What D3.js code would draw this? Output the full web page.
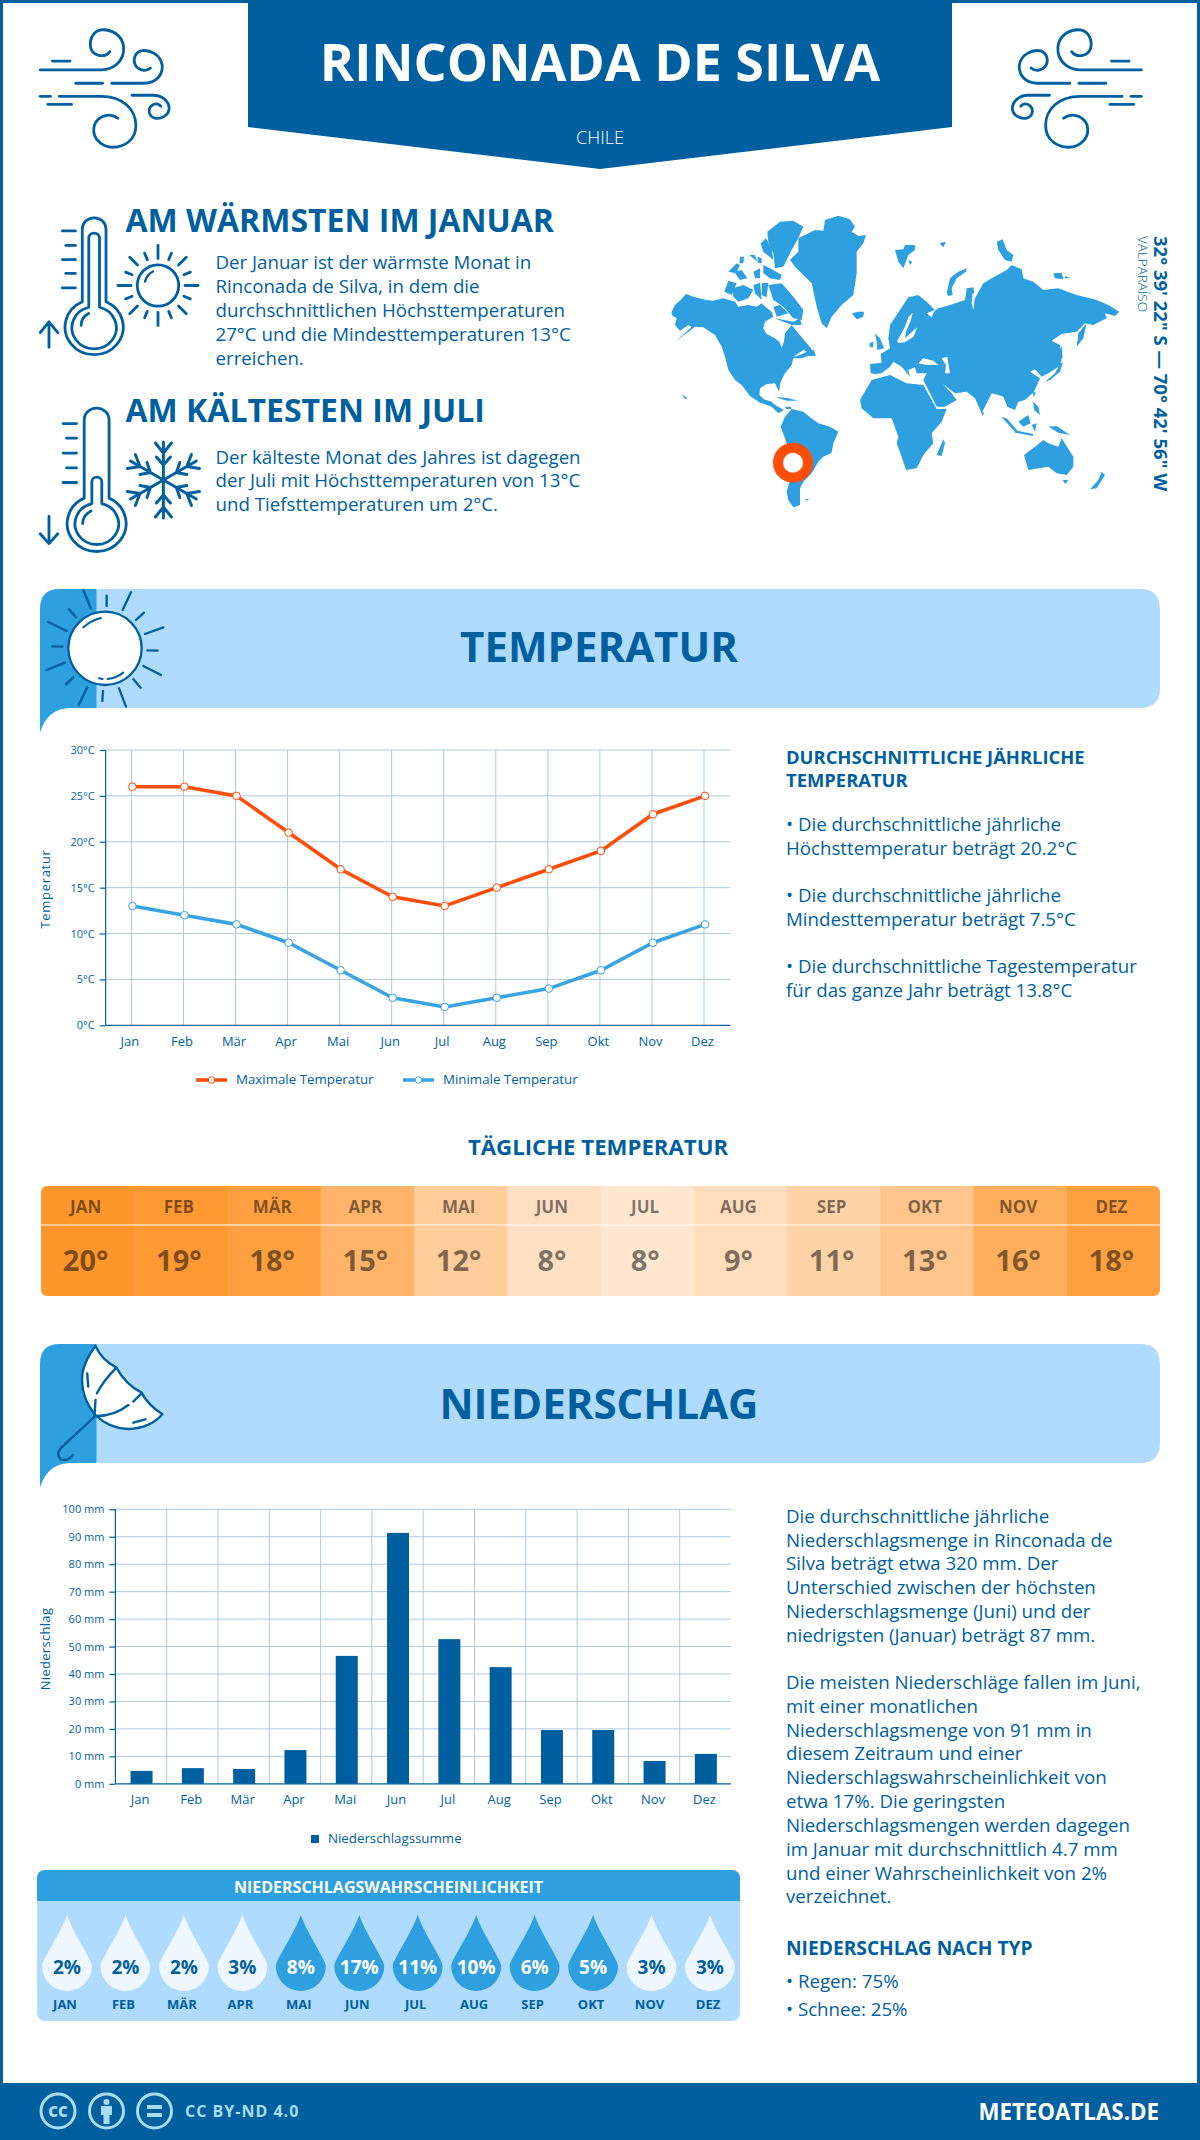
<!DOCTYPE html>
<html><head><meta charset="utf-8">
<style>
html,body{margin:0;padding:0;background:#fff}
svg{display:block}
text{font-family:"Open Sans",sans-serif}
</style>
<script src="https://cdn.jsdelivr.net/npm/d3@7"></script>
</head><body><svg id="c" width="1200" height="2140"></svg>
<script>
const months=["Jan","Feb","Mär","Apr","Mai","Jun","Jul","Aug","Sep","Okt","Nov","Dez"];
const monthsUpper=["JAN","FEB","MÄR","APR","MAI","JUN","JUL","AUG","SEP","OKT","NOV","DEZ"];
const tempMax=[26,26,25,21,17,14,13,15,17,19,23,25];
const tempMin=[13,12,11,9,6,3,2,3,4,6,9,11];
const dailyTemp=[20,19,18,15,12,8,8,9,11,13,16,18];
const precip=[4.7,5.7,5.4,12.3,46.6,91.4,52.7,42.5,19.6,19.6,8.3,10.9];
const precipProb=[2,2,2,3,8,17,11,10,6,5,3,3];
const tempTicks=[0,5,10,15,20,25,30];
const precipTicks=[0,10,20,30,40,50,60,70,80,90,100];
const warmLines=["Der Januar ist der wärmste Monat in","Rinconada de Silva, in dem die","durchschnittlichen Höchsttemperaturen","27°C und die Mindesttemperaturen 13°C","erreichen."];
const coldLines=["Der kälteste Monat des Jahres ist dagegen","der Juli mit Höchsttemperaturen von 13°C","und Tiefsttemperaturen um 2°C."];
const tempTextLines=[["• Die durchschnittliche jährliche",830.5],["Höchsttemperatur beträgt 20.2°C",854.5],["• Die durchschnittliche jährliche",902],["Mindesttemperatur beträgt 7.5°C",926],["• Die durchschnittliche Tagestemperatur",973],["für das ganze Jahr beträgt 13.8°C",997]];
const precipTextLines=[["Die durchschnittliche jährliche",1522.5],["Niederschlagsmenge in Rinconada de",1546.5],["Silva beträgt etwa 320 mm. Der",1570],["Unterschied zwischen der höchsten",1594],["Niederschlagsmenge (Juni) und der",1618],["niedrigsten (Januar) beträgt 87 mm.",1641.5],["Die meisten Niederschläge fallen im Juni,",1689],["mit einer monatlichen",1713],["Niederschlagsmenge von 91 mm in",1736.5],["diesem Zeitraum und einer",1760],["Niederschlagswahrscheinlichkeit von",1784],["etwa 17%. Die geringsten",1808],["Niederschlagsmengen werden dagegen",1831.5],["im Januar mit durchschnittlich 4.7 mm",1855.5],["und einer Wahrscheinlichkeit von 2%",1879.5],["verzeichnet.",1903],["• Regen: 75%",1987.5],["• Schnee: 25%",2016]];

const NAVY="#005f9e",MID="#2e9fdf",LIGHT="#afdbff",GRID="#aecbdf",RED="#ff4d0a";
const BODY=18.7;
const svg=d3.select("#c");
function T(p,s,x,y,size,weight,fill,anchor,extra){
  const t=p.append("text").text(s).attr("x",x).attr("y",y).attr("font-size",size).attr("font-weight",weight||400).attr("fill",fill||NAVY).attr("text-anchor",anchor||"start");
  if(extra)for(const k in extra)t.style(k,extra[k]);
  return t;
}
// frame
svg.append("rect").attr("x",1.5).attr("y",1.5).attr("width",1197).attr("height",2137).attr("fill","#fff").attr("stroke",NAVY).attr("stroke-width",3);
svg.append("path").attr("d","M248,0H952V127L600,169L248,127Z").attr("fill",NAVY);
T(svg,"RINCONADA DE SILVA",600,81,52,700,"#fff","middle");
T(svg,"CHILE",600,144,18,300,"#fff","middle");

// zoom-space group for icons
const Z=(tx=0,flip=false)=>svg.append("g").attr("transform",`translate(${tx},0) scale(${flip?-0.3827:0.3827},0.3636)`);
function line(g,d,w=2.8,fill="none",col=NAVY){return g.append("path").attr("d",d).attr("fill",fill).attr("stroke",col).attr("stroke-width",w).attr("stroke-linecap","round").attr("stroke-linejoin","round").attr("vector-effect","non-scaling-stroke");}
const wind=["M105,192H265C300,192 325,165 323,130C320,95 290,80 265,82C240,85 232,115 238,135C245,155 275,160 287,142","M137,168H183","M292,229H375C410,229 425,205 424,180C420,150 390,135 368,140C350,147 345,170 358,185C370,197 385,195 393,187","M198,229H268","M155,265H265C320,265 355,300 355,345C355,385 325,405 295,405C265,405 243,380 245,355C247,325 280,305 308,325","M105,265H132","M125,287H187","M345,262H400C425,262 442,280 442,298C442,318 420,328 405,325C388,320 385,300 397,290C405,283 415,285 420,292"];
const wl=Z(),wr=Z(1181.5,true);
wind.forEach(d=>{line(wl,d);line(wr,d);});

// thermometers
const th=Z();
line(th,"M215,630A31,31 0 0 1 277,630V830A76,76 0 1 1 215,830Z");
line(th,"M232,655A14,14 0 0 1 260,655V845A58,58 0 1 1 232,845Z");
line(th,"M212,895Q212,872 232,862");
[[163,635],[172,675],[163,714],[172,752],[163,792]].forEach(a=>line(th,`M${a[0]},${a[1]}H197`));
line(th,"M128,885V955M105,915L128,885L151,915");
line(th,"M220,1155A32,32 0 0 1 285,1155V1370A77,77 0 1 1 220,1370Z");
line(th,"M240,1325A13,13 0 0 1 266,1325V1385A57,57 0 1 1 240,1385Z");
line(th,"M216,1440Q216,1418 238,1405");
[[165,1165],[174,1205],[165,1246],[174,1287],[165,1327]].forEach(a=>line(th,`M${a[0]},${a[1]}H200`));
line(th,"M128,1420V1495M105,1468L128,1495L151,1468");

// sun icon
const sg=svg.append("g").attr("transform","translate(158,285.5)");
sg.append("circle").attr("r",20.7).attr("fill","none").attr("stroke",NAVY).attr("stroke-width",2.8);
d3.range(16).forEach(i=>{const a=i*Math.PI/8,lg=i%2==0,card=i%4==0;const r1=lg?(card?27:29):28,r2=lg?40:35;
 sg.append("line").attr("x1",r1*Math.cos(a)).attr("y1",r1*Math.sin(a)).attr("x2",r2*Math.cos(a)).attr("y2",r2*Math.sin(a)).attr("stroke",NAVY).attr("stroke-width",2.8).attr("stroke-linecap","round");});
sg.append("path").attr("d","M-13,-4Q-11,-11 -5,-14").attr("fill","none").attr("stroke",NAVY).attr("stroke-width",2.4).attr("stroke-linecap","round");
// snowflake
const sn=svg.append("g").attr("transform","translate(163.4,480)").attr("stroke",NAVY).attr("stroke-width",3).attr("stroke-linecap","round").attr("fill","none");
d3.range(6).forEach(i=>{sn.append("path").attr("transform",`rotate(${i*60})`).attr("d","M0,0V-38M-8,-37L0,-27L8,-37M-7,-23L0,-15L7,-23");});

// headings
T(svg,"AM WÄRMSTEN IM JANUAR",125.5,232,32,700);
warmLines.forEach((s,i)=>T(svg,s,215.5,269+i*24,BODY,400));
T(svg,"AM KÄLTESTEN IM JULI",125.5,422,32,700);
coldLines.forEach((s,i)=>T(svg,s,215.5,463.5+i*23.6,BODY,400));

// map
const map=svg.append("g").attr("transform","translate(660,210) scale(.33333)");
const land=[
"M35,305L45,285L62,270L78,252L105,262L140,270L160,272L190,265L225,275L235,290L265,285L290,290L305,280L318,292L335,305L340,320L315,335L310,355L320,372L345,385L358,395L365,413L372,395L375,370L395,345L415,370L432,390L445,405L467,435L445,438L425,445L400,445L395,465L375,490L362,515L357,545L345,520L320,522L300,535L298,555L312,568L335,575L345,585L372,600L355,610L335,590L300,578L270,558L245,525L225,510L205,480L195,440L185,410L165,375L130,352L105,350L80,370L45,395L75,370L95,350L85,345L60,362L45,345L50,325L35,315Z",
"M362,650L375,620L395,597L430,605L450,622L475,640L510,650L535,665L520,700L515,728L490,740L475,755L455,790L430,815L420,835L420,865L420,885L400,892L385,870L380,845L390,810L385,760L380,700Z",
"M415,85L465,60L490,62L495,30L535,17L570,28L585,50L575,65L595,78L618,75L610,100L590,125L590,190L580,255L545,285L515,320L500,355L485,340L470,290L455,220L405,170L390,150L415,125Z",
"M322,65L360,35L400,32L430,50L415,85L395,120L370,170L345,175L340,130L325,95Z",
"M302,100L318,85L335,115L340,150L310,125Z","M205,185L230,160L240,165L228,190Z","M222,185L245,180L262,205L240,210Z","M240,140L252,140L250,160L238,160Z","M268,135L285,135L292,155Z","M293,140L305,145L305,160L293,158Z","M280,185L300,175L300,205L285,205Z","M310,165L340,180L365,195L360,210L330,205L310,190Z",
"M193,245L205,212L230,220L215,255Z","M218,235L250,225L280,240L265,265L235,275L220,260Z","M280,225L300,218L305,270L285,250Z","M305,220L325,218L320,262L305,255Z","M325,225L365,220L400,260L430,300L425,330L400,325L370,290L340,270Z","M340,290L360,285L385,310L350,320Z","M345,325L400,335L420,325L425,345L395,345L370,335Z",
"M440,425L462,420L467,438L445,438Z","M345,560L385,565L415,572L380,572Z","M375,590L392,590L395,597L378,597Z",
"M575,310L595,305L612,305L610,320L590,328Z",
"M705,120L730,118L735,105L765,105L765,120L745,135L730,175L715,155Z","M745,150L757,155L750,165Z","M838,100L858,95L850,112Z","M860,250L870,205L895,185L920,175L918,185L890,205L875,235L878,255L865,258Z","M1010,95L1028,88L1040,120L1060,135L1055,155L1035,150L1015,120Z","M1180,190L1205,188L1210,208L1185,205Z","M1215,198L1232,205L1215,205Z","M645,370L660,385L672,415L652,420L650,395Z","M628,400L640,395L640,412L630,412Z",
"M632,490L630,462L665,458L662,432L690,415L685,385L690,345L720,300L745,262L775,255L800,275L825,300L800,322L835,295L870,285L915,270L920,235L940,232L945,265L970,220L995,205L1040,180L1055,165L1085,178L1090,205L1120,215L1150,240L1195,235L1250,255L1310,270L1345,285L1378,305L1365,318L1335,310L1340,325L1300,345L1275,340L1250,365L1205,372L1175,392L1200,405L1205,450L1195,470L1165,490L1145,500L1125,478L1110,485L1140,505L1122,545L1095,570L1075,575L1065,600L1042,590L1030,560L1015,555L995,550L965,610L945,565L920,545L885,550L848,522L875,550L890,570L855,590L830,590L800,530L790,510L800,490L770,490L765,472L745,480L750,500L725,470L700,455L690,470L665,490L645,492Z",
"M600,570L635,510L690,495L740,520L790,525L830,597L860,597L845,635L815,670L820,700L790,735L770,775L738,780L725,740L710,700L715,680L695,625L640,625L605,595Z",
"M830,735L850,688L855,700L845,738Z",
"M1092,735L1125,710L1150,690L1165,700L1195,710L1205,685L1240,740L1240,770L1220,795L1190,790L1165,770L1105,780Z","M1208,810L1225,810L1216,822Z","M1290,838L1315,810L1325,785L1335,795L1310,835Z",
"M1025,622L1040,625L1075,665L1060,660Z","M1062,660L1120,672L1118,678L1065,668Z","M1075,635L1105,615L1112,640L1090,650Z","M1115,645L1130,640L1125,665Z","M1165,650L1190,648L1230,675L1195,668Z","M1120,575L1135,590L1140,615L1122,600Z","M1118,545L1128,548L1120,560Z","M1155,515L1185,490L1195,470L1195,455L1208,460L1200,485L1170,510Z","M1250,410L1255,370L1280,340L1270,385Z","M1195,440L1205,405L1208,445Z","M963,605L972,608L968,618Z","M435,868L448,866L440,872Z","M65,552L82,565L75,568Z"
];
map.selectAll("path.l").data(land).join("path").attr("class","l").attr("d",d=>d).attr("fill",MID);
const cuts=["M712,392L735,350L745,322L758,308L752,332L738,365L735,385L760,362L772,352L760,380L735,397L715,399Z","M775,460L790,445L820,452L835,465L800,465Z","M845,445L862,440L870,490L855,490L858,465Z","M800,310L825,300L815,322Z","M400,440L430,420L440,425L420,435Z","M230,515L255,550L245,550Z","M938,250L946,250L940,300L935,280Z"];
map.selectAll("path.w").data(cuts).join("path").attr("class","w").attr("d",d=>d).attr("fill","#fff");
svg.append("circle").attr("cx",793).attr("cy",462.7).attr("r",15).attr("fill","#fff").attr("stroke",RED).attr("stroke-width",10);
const c1=svg.append("g").attr("transform","translate(1154,236) rotate(90)");
T(c1,"32° 39' 22\" S — 70° 42' 56\" W",0,0,18.5,700);
const c2=svg.append("g").attr("transform","translate(1137.5,236) rotate(90)");
T(c2,"VALPARAÍSO",0,0,13.5,300);

// section headers
function section(y0,title,base){
  const g=svg.append("g");
  g.append("path").attr("d",`M40,${y0+20}Q40,${y0} 60,${y0}H1140Q1160,${y0} 1160,${y0+20}V${y0+99}Q1160,${y0+119} 1140,${y0+119}H70Q48,${y0+119} 40,${y0+143}Z`).attr("fill",LIGHT);
  g.append("path").attr("d",`M40,${y0+20}Q40,${y0} 60,${y0}H96.5V${y0+119}H70Q48,${y0+119} 40,${y0+143}Z`).attr("fill",MID);
  T(g,title,599,base,42,700,NAVY,"middle");
}
section(589,"TEMPERATUR",662);
section(1344,"NIEDERSCHLAG",1419);
// temperature icon
const hs=svg.append("g").attr("transform","translate(30,580) scale(.3333)");
hs.append("circle").attr("cx",225).attr("cy",205).attr("r",110).attr("fill","#fff").attr("stroke",NAVY).attr("stroke-width",7);
const rays=[[160,30,182,85],[230,47,230,78],[303,37,278,90],[342,98,318,120],[400,142,345,162],[383,212,352,211],[393,285,340,258],[332,323,310,298],[288,380,267,325],[217,363,219,333],[146,375,172,322],[130,292,108,313],[105,248,50,270],[97,200,67,199],[110,153,55,126],[138,112,117,88]];
hs.selectAll("line").data(rays).join("line").attr("x1",d=>d[0]).attr("y1",d=>d[1]).attr("x2",d=>d[2]).attr("y2",d=>d[3]).attr("stroke",NAVY).attr("stroke-width",7).attr("stroke-linecap","round");
["M160,142Q182,122 213,114","M233,297Q258,295 280,278","M207,295L218,297"].forEach(d=>hs.append("path").attr("d",d).attr("fill","none").attr("stroke",NAVY).attr("stroke-width",6).attr("stroke-linecap","round"));
// umbrella icon
const ub=svg.append("g").attr("transform","translate(0,1330) scale(.4847,.3333)");
line(ub,"M197,48Q210,90 240,113Q260,165 292,188Q305,225 335,253Q310,295 265,297Q225,295 197,255Q165,200 170,130Q175,90 197,48Z",2.4,"#fff");
["M240,113Q212,155 200,190","M197,210L195,255","M292,190L275,215","M265,225Q235,258 200,258","M197,258L125,355Q115,375 125,388Q140,395 150,375","M180,130L182,170","M275,278L300,268"].forEach(d=>line(ub,d,2.4));

// temperature chart
const x=d3.scalePoint().domain(months).range([131.4,704]);
const y=d3.scaleLinear().domain([0,30]).range([1025.3,750]);
const tg=svg.append("g");
tg.selectAll("line.h").data(tempTicks.slice(1)).join("line").attr("x1",105.7).attr("x2",730.5).attr("y1",d=>y(d)).attr("y2",d=>y(d)).attr("stroke",GRID);
tg.selectAll("line.v").data(months).join("line").attr("x1",d=>x(d)).attr("x2",d=>x(d)).attr("y1",750).attr("y2",1025.3).attr("stroke",GRID);
function styleAxis(g){g.selectAll("path,line").attr("stroke",NAVY).attr("stroke-width",1.2);g.selectAll("text").attr("fill",NAVY).attr("font-size",11).style("font-family",'"Open Sans",sans-serif');}
tg.append("g").attr("transform","translate(105.7,0)").call(d3.axisLeft(y).tickValues(tempTicks).tickFormat(d=>d+"°C").tickSize(6).tickPadding(5)).call(styleAxis).call(g=>g.select(".domain").attr("d","M0,750V1025.3"));
tg.append("g").attr("transform","translate(0,1025.3)").call(d3.axisBottom(x).tickSize(0).tickPadding(11)).call(styleAxis).call(g=>{g.select(".domain").attr("d","M105.7,0H730.5");g.selectAll("text").attr("dx",-2).attr("font-size",13);});
const tt=svg.append("g").attr("transform","translate(50,889) rotate(-90)");
T(tt,"Temperatur",0,0,13,400,NAVY,"middle",{"letter-spacing":"0.7px"});
const ln=d3.line().x((d,i)=>x(months[i])+1).y(d=>y(d));
[[tempMax,RED],[tempMin,"#3aa4e2"]].forEach(([s,c])=>{
  tg.append("path").attr("d",ln(s)).attr("fill","none").attr("stroke",c).attr("stroke-width",3.6);
  tg.selectAll(null).data(s).join("circle").attr("cx",(d,i)=>x(months[i])+1).attr("cy",d=>y(d)).attr("r",3.8).attr("fill","#fff").attr("stroke",c).attr("stroke-width",1);
});
[[196,227,211.5,RED,"Maximale Temperatur",236],[403,434,418.5,"#3aa4e2","Minimale Temperatur",443]].forEach(a=>{
  svg.append("line").attr("x1",a[0]).attr("x2",a[1]).attr("y1",1080).attr("y2",1080).attr("stroke",a[3]).attr("stroke-width",3.6);
  svg.append("circle").attr("cx",a[2]).attr("cy",1080).attr("r",3.2).attr("fill","#fff").attr("stroke",a[3]);
  T(svg,a[4],a[5],1084,13.3,400);
});
// right text temperature
T(svg,"DURCHSCHNITTLICHE JÄHRLICHE",786,763.5,18.4,700);
T(svg,"TEMPERATUR",786,786.5,18.4,700);
tempTextLines.forEach(a=>T(svg,a[0],786,a[1],BODY,400));

// daily
T(svg,"TÄGLICHE TEMPERATUR",598,1155,22.2,700,NAVY,"middle");
const midT=tempMax.map((v,i)=>(v+tempMin[i])/2);
const heat=d3.scaleLinear().domain([7.5,19.5]).range(["#ffe7d2","#ff962b"]);
const hx=d3.scaleBand().domain(months).range([41,1160]);
const defs=svg.append("defs");
defs.append("clipPath").attr("id","tc").append("rect").attr("x",41).attr("y",1186).attr("width",1119).attr("height",110).attr("rx",6);
const dg=svg.append("g").attr("clip-path","url(#tc)");
dg.selectAll("rect").data(months).join("rect").attr("x",d=>hx(d)).attr("y",1186).attr("width",hx.bandwidth()+.5).attr("height",110).attr("fill",(d,i)=>heat(midT[i]));
svg.append("line").attr("x1",41).attr("x2",1160).attr("y1",1225).attr("y2",1225).attr("stroke","#fff").attr("stroke-width",1);
months.forEach((m,i)=>{
  const cx=hx(m)+hx.bandwidth()/2-2;
  T(svg,monthsUpper[i],cx,1212.5,17,700,"#000","middle").attr("fill-opacity",.5);
  T(svg,dailyTemp[i]+"°",cx,1271,29,700,"#000","middle").attr("fill-opacity",.5);
});

// precipitation chart
const bx=d3.scaleBand().domain(months).range([115.4,731]);
const by=d3.scaleLinear().domain([0,100]).range([1783.8,1509.3]);
const pg=svg.append("g");
pg.selectAll("line.h").data(precipTicks.slice(1)).join("line").attr("x1",115.4).attr("x2",731).attr("y1",d=>by(d)).attr("y2",d=>by(d)).attr("stroke",GRID);
pg.selectAll("line.v").data(months.slice(1)).join("line").attr("x1",d=>bx(d)).attr("x2",d=>bx(d)).attr("y1",1509.3).attr("y2",1783.8).attr("stroke",GRID);
pg.selectAll("rect").data(precip).join("rect").attr("x",(d,i)=>bx(months[i])+bx.bandwidth()/2-10.5).attr("width",22).attr("y",d=>by(d)).attr("height",d=>by(0)-by(d)).attr("fill",NAVY);
pg.append("g").attr("transform","translate(115.4,0)").call(d3.axisLeft(by).tickValues(precipTicks).tickFormat(d=>d+" mm").tickSize(6).tickPadding(5)).call(styleAxis).call(g=>g.select(".domain").attr("d","M0,1509.3V1783.8"));
pg.append("g").attr("transform","translate(0,1783.8)").call(d3.axisBottom(bx).tickSize(0).tickPadding(11)).call(styleAxis).call(g=>{g.select(".domain").attr("d","M115.4,0H731");g.selectAll("text").attr("dx",-1).attr("font-size",13);});
const pt=svg.append("g").attr("transform","translate(50,1649) rotate(-90)");
T(pt,"Niederschlag",0,0,13,400,NAVY,"middle",{"letter-spacing":"0.3px"});
svg.append("rect").attr("x",311).attr("y",1835).attr("width",8).attr("height",8).attr("fill",NAVY);
T(svg,"Niederschlagssumme",328,1843,13.3,400);
precipTextLines.forEach(a=>T(svg,a[0],786,a[1],BODY,400));
T(svg,"NIEDERSCHLAG NACH TYP",786,1954.5,19.2,700);

// probability
defs.append("clipPath").attr("id","pc").append("rect").attr("x",37).attr("y",1870).attr("width",703).attr("height",151).attr("rx",8);
const pb=svg.append("g").attr("clip-path","url(#pc)");
pb.append("rect").attr("x",37).attr("y",1870).attr("width",703).attr("height",151).attr("fill",LIGHT);
pb.append("rect").attr("x",37).attr("y",1870).attr("width",703).attr("height",31).attr("fill",MID);
T(svg,"NIEDERSCHLAGSWAHRSCHEINLICHKEIT",388.5,1892.5,16,700,"#fff","middle");
const dx=d3.scalePoint().domain(months).range([67,710]);
const drop="M0,0C6,18 25,45 25,51A25,25 0 0 1 -25,51C-25,45 -6,18 0,0Z";
months.forEach((m,i)=>{
  const dark=precipProb[i]>=5;
  svg.append("path").attr("d",drop).attr("transform",`translate(${dx(m)},1915)`).attr("fill",dark?MID:"#eef7ff");
  T(svg,precipProb[i]+"%",dx(m),1974,19,700,dark?"#fff":NAVY,"middle");
  T(svg,monthsUpper[i],dx(m)-2,2009,13,700,NAVY,"middle");
});

// footer
svg.append("rect").attr("x",0).attr("y",2083).attr("width",1200).attr("height",57).attr("fill",NAVY);
const CC="#a9dcf7";
[58,106.5,154.5].forEach(cx=>svg.append("circle").attr("cx",cx).attr("cy",2111).attr("r",17).attr("fill","none").attr("stroke",CC).attr("stroke-width",3));
T(svg,"CC",58,2116.5,15,800,CC,"middle");
svg.append("circle").attr("cx",106.5).attr("cy",2102).attr("r",3).attr("fill",CC);
svg.append("path").attr("d","M101,2106H112V2115H109.5V2124H103.5V2115H101Z").attr("fill",CC);
svg.append("rect").attr("x",147).attr("y",2105).attr("width",15).attr("height",4).attr("fill",CC);
svg.append("rect").attr("x",147).attr("y",2113).attr("width",15).attr("height",4).attr("fill",CC);
T(svg,"CC BY-ND 4.0",185,2117,16,700,CC,"start",{"letter-spacing":"1px"});
T(svg,"METEOATLAS.DE",1159,2120,22.3,700,"#fff","end");
</script></body></html>
